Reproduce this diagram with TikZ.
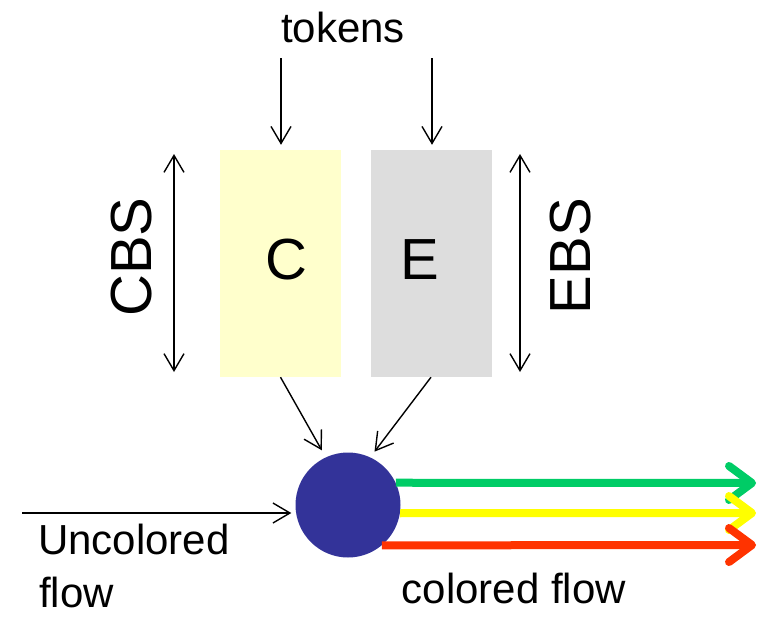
\documentclass[tikz,border=0pt]{standalone}
\usepackage{fontspec}
\setmainfont{Liberation Sans}
\usetikzlibrary{arrows.meta}
\definecolor{cfill}{HTML}{FFFFCC}
\definecolor{efill}{HTML}{DDDDDD}
\definecolor{hubblue}{HTML}{333399}
\definecolor{flowgreen}{HTML}{00CC66}
\definecolor{flowyellow}{HTML}{FFFF00}
\definecolor{flowred}{HTML}{FF3300}
\tikzset{
  buffer/.style={draw=none, minimum width=121pt, minimum height=227pt, inner sep=0pt},
  bigletter/.style={font=\fontsize{58}{60}\selectfont, inner sep=0pt},
  smalltext/.style={font=\fontsize{42}{46}\selectfont, inner sep=0pt},
  thinarrow/.style={line width=1.4pt, -{Straight Barb[length=17pt,width=20pt]}},
  twoway/.style={line width=1.4pt, {Straight Barb[length=17pt,width=20pt]}-{Straight Barb[length=17pt,width=20pt]}},
  colorflow/.style={line width=8pt, line cap=butt, -{Straight Barb[length=23pt,width=34pt,round]}}
}
\begin{document}
\begin{tikzpicture}[x=1pt, y=-1pt]
  \useasboundingbox (0,0) rectangle (758,619);

  % the two buffers
  \node[buffer, fill=cfill] (C) at (280.5,263.5) {};
  \node[buffer, fill=efill] (E) at (431,263.5) {};
  \node[bigletter] (clabel) at (286,259.5) {C};
  \node[bigletter] (elabel) at (420,259.5) {E};

  % buffer size markers
  \node[bigletter, rotate=90] (cbs) at (132,257) {CBS};
  \node[bigletter, rotate=90] (ebs) at (571,256) {EBS};
  \coordinate (cbstop) at (174,154);
  \coordinate (cbsbot) at (174,372);
  \coordinate (ebstop) at (520,154);
  \coordinate (ebsbot) at (520,372);
  \draw[twoway] (cbstop) -- (cbsbot);
  \draw[twoway] (ebstop) -- (ebsbot);

  % token input
  \node[smalltext, anchor=base] (tokens) at (343,42.5) {tokens};
  \coordinate (tc) at (281,58);
  \coordinate (te) at (432,58);
  \draw[thinarrow, shorten >=5pt] (tc) -- (tc |- C.north);
  \draw[thinarrow, shorten >=5pt] (te) -- (te |- E.north);

  % marker
  \node[circle, fill=hubblue, minimum size=105pt, inner sep=0pt] (hub) at (348,505) {};
  \draw[thinarrow, shorten >=8pt] (C.south) -- (hub.115);
  \draw[thinarrow, shorten >=7pt] (E.south) -- (hub.65);

  % uncolored input
  \coordinate (uin) at (22,513);
  \draw[thinarrow, shorten >=4pt] (uin) -- (uin -| hub.west);
  \node[smalltext, anchor=base west] (uncol) at (38,554) {Uncolored};
  \node[smalltext, anchor=base west] (flowtxt) at (39,607) {flow};

  % colored output
  \coordinate (gend) at (756,483);
  \coordinate (yend) at (756,513);
  \coordinate (rend) at (756,545);
  \draw[colorflow, flowgreen] (hub.25) -- (gend);
  \draw[colorflow, flowyellow] (hub.-9) -- (yend);
  \draw[colorflow, flowred] (hub.-50) -- (rend);
  \node[smalltext, anchor=base] (coltxt) at (514,603) {colored flow};
\end{tikzpicture}
\end{document}
